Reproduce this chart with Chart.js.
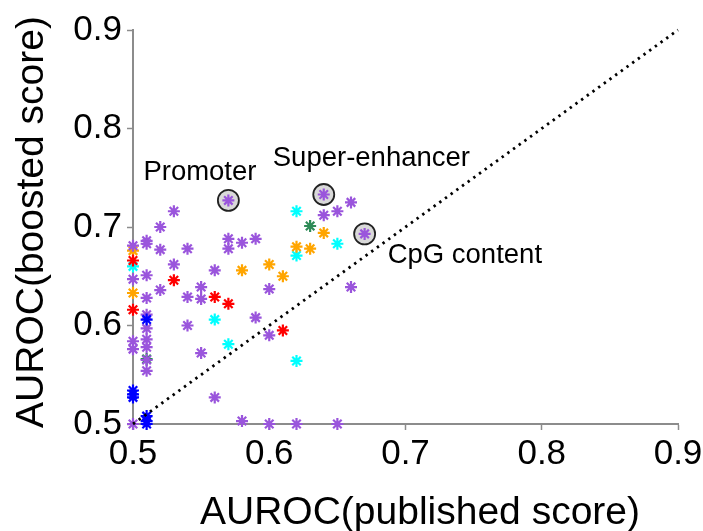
<!DOCTYPE html>
<html>
<head>
<meta charset="utf-8">
<script src="https://cdn.jsdelivr.net/npm/chart.js@4/dist/chart.umd.min.js"></script>
<style>
  html, body { margin: 0; padding: 0; background: #ffffff; }
  #wrap { width: 703px; height: 531px; }
</style>
</head>
<body>
<div id="wrap"><canvas id="c" width="703" height="531"></canvas></div>
<script>
// Axis ticks
const tickValues = [0.5, 0.6, 0.7, 0.8, 0.9];
const tickLabels = ['0.5', '0.6', '0.7', '0.8', '0.9'];

// AUROC pairs (published score on x, boosted score on y), grouped by marker colour
const purpleX = [0.50, 0.50, 0.50, 0.50, 0.50,
                 0.51, 0.51, 0.51, 0.51, 0.51, 0.51, 0.51, 0.51, 0.51, 0.51,
                 0.52, 0.52, 0.52, 0.53, 0.53, 0.54, 0.54, 0.54,
                 0.55, 0.55, 0.55, 0.56, 0.56, 0.57, 0.57, 0.57,
                 0.58, 0.58, 0.59, 0.59, 0.60, 0.60, 0.60, 0.62,
                 0.64, 0.64, 0.65, 0.65, 0.66, 0.66, 0.67];
const purpleY = [0.681, 0.647, 0.584, 0.576, 0.500,
                 0.686, 0.683, 0.651, 0.628, 0.611, 0.597, 0.586, 0.578, 0.565, 0.554,
                 0.700, 0.677, 0.636, 0.716, 0.662, 0.678, 0.629, 0.600,
                 0.639, 0.627, 0.572, 0.656, 0.527, 0.727, 0.688, 0.678,
                 0.684, 0.503, 0.688, 0.608, 0.637, 0.590, 0.500, 0.500,
                 0.733, 0.712, 0.716, 0.500, 0.725, 0.639, 0.693];

const redX = [0.50, 0.50, 0.53, 0.56, 0.57, 0.61];
const redY = [0.666, 0.616, 0.646, 0.629, 0.622, 0.595];

const orangeX = [0.50, 0.50, 0.58, 0.60, 0.61, 0.62, 0.63, 0.64];
const orangeY = [0.676, 0.633, 0.656, 0.662, 0.650, 0.680, 0.678, 0.694];

const cyanX = [0.50, 0.56, 0.57, 0.62, 0.62, 0.62, 0.65];
const cyanY = [0.660, 0.606, 0.581, 0.716, 0.671, 0.564, 0.683];

const blueX = [0.50, 0.50, 0.50, 0.51, 0.51, 0.51, 0.51];
const blueY = [0.534, 0.530, 0.527, 0.606, 0.508, 0.503, 0.500];

const greenX = [0.63, 0.51];
const greenY = [0.701, 0.566];

// Annotated feature sets
const highlightX = [0.57, 0.64, 0.67];
const highlightY = [0.727, 0.733, 0.693];
const highlightNames = ['Promoter', 'Super-enhancer', 'CpG content'];

// Identity reference line
const diagX = [0.5, 0.9];
const diagY = [0.5, 0.9];

const pts = (xs, ys) => xs.map((x, i) => ({ x: x, y: ys[i] }));

const FONT = '"Liberation Sans", Arial, Helvetica, sans-serif';

function starSet(label, xs, ys, color, order) {
  return {
    type: 'scatter',
    label: label,
    data: pts(xs, ys),
    pointStyle: 'star',
    pointRadius: 6,
    pointBorderWidth: 2.2,
    borderColor: color,
    backgroundColor: color,
    clip: false,
    order: order
  };
}

// Text labels: axis titles and annotation names
const textPlugin = {
  id: 'texts',
  afterDatasetsDraw(chart) {
    const ctx = chart.ctx;
    const xs = chart.scales.x, ys = chart.scales.y;
    ctx.save();
    ctx.fillStyle = '#000';
    ctx.textBaseline = 'alphabetic';
    // annotation names, placed relative to their marked points
    const offs = [[-85, -20], [-51, -28], [23, 29]];
    ctx.font = '27.5px ' + FONT;
    ctx.textAlign = 'left';
    highlightNames.forEach((name, i) => {
      const px = xs.getPixelForValue(highlightX[i]);
      const py = ys.getPixelForValue(highlightY[i]);
      ctx.fillText(name, px + offs[i][0], py + offs[i][1]);
    });
    // axis titles
    ctx.font = '39px ' + FONT;
    ctx.textAlign = 'center';
    ctx.fillText('AUROC(published score)', 420, 524);
    ctx.translate(43, 222);
    ctx.rotate(-Math.PI / 2);
    ctx.fillText('AUROC(boosted score)', 0, 0);
    ctx.restore();
  }
};

const axisColor = '#8c8c8c';

function axis(isX) {
  return {
    type: 'linear',
    min: 0.5,
    max: 0.9,
    afterBuildTicks: (s) => { s.ticks = tickValues.map(v => ({ value: v })); },
    afterFit: (s) => {
      if (isX) {
        s.height = 107;
        s.paddingLeft = 0;
        s.paddingRight = 0;
      } else {
        s.width = 133;
        s.paddingTop = 0;
        s.paddingBottom = 0;
      }
    },
    grid: {
      display: true,
      drawOnChartArea: false,
      drawTicks: true,
      tickLength: 6,
      tickWidth: 1.5,
      tickColor: axisColor
    },
    border: { display: true, color: axisColor, width: 2 },
    ticks: {
      color: '#000',
      font: { family: FONT, size: 35 },
      padding: isX ? 3 : 5,
      maxRotation: 0,
      autoSkip: false,
      callback: (v) => {
        const i = tickValues.findIndex(t => Math.abs(t - v) < 1e-9);
        return i >= 0 ? tickLabels[i] : '';
      }
    }
  };
}

new Chart(document.getElementById('c'), {
  type: 'scatter',
  data: {
    datasets: [
      {
        type: 'line',
        label: 'y = x',
        data: pts(diagX, diagY),
        borderColor: '#000',
        borderWidth: 2.8,
        borderDash: [2.4, 4.6],
        borderCapStyle: 'butt',
        pointRadius: 0,
        fill: false,
        tension: 0,
        clip: false,
        order: 0
      },
      starSet('blue', blueX, blueY, '#0000ff', 1),
      starSet('purple', purpleX, purpleY, '#9a55dc', 2),
      starSet('red', redX, redY, '#ff0000', 3),
      starSet('orange', orangeX, orangeY, '#ffa500', 4),
      starSet('cyan', cyanX, cyanY, '#00ffff', 5),
      starSet('green', greenX, greenY, '#2e8b57', 6),
      {
        type: 'scatter',
        label: 'highlight',
        data: pts(highlightX, highlightY),
        pointStyle: 'circle',
        pointRadius: 10.5,
        pointBorderWidth: 1.8,
        borderColor: '#222222',
        backgroundColor: 'rgba(210,210,210,0.85)',
        clip: false,
        order: 7
      }
    ]
  },
  options: {
    responsive: false,
    animation: false,
    devicePixelRatio: 1,
    layout: { padding: { left: 0, right: 25, top: 30, bottom: 0 } },
    plugins: {
      legend: { display: false },
      tooltip: { enabled: false },
      title: { display: false }
    },
    scales: {
      x: axis(true),
      y: axis(false)
    }
  },
  plugins: [textPlugin]
});
</script>
</body>
</html>
